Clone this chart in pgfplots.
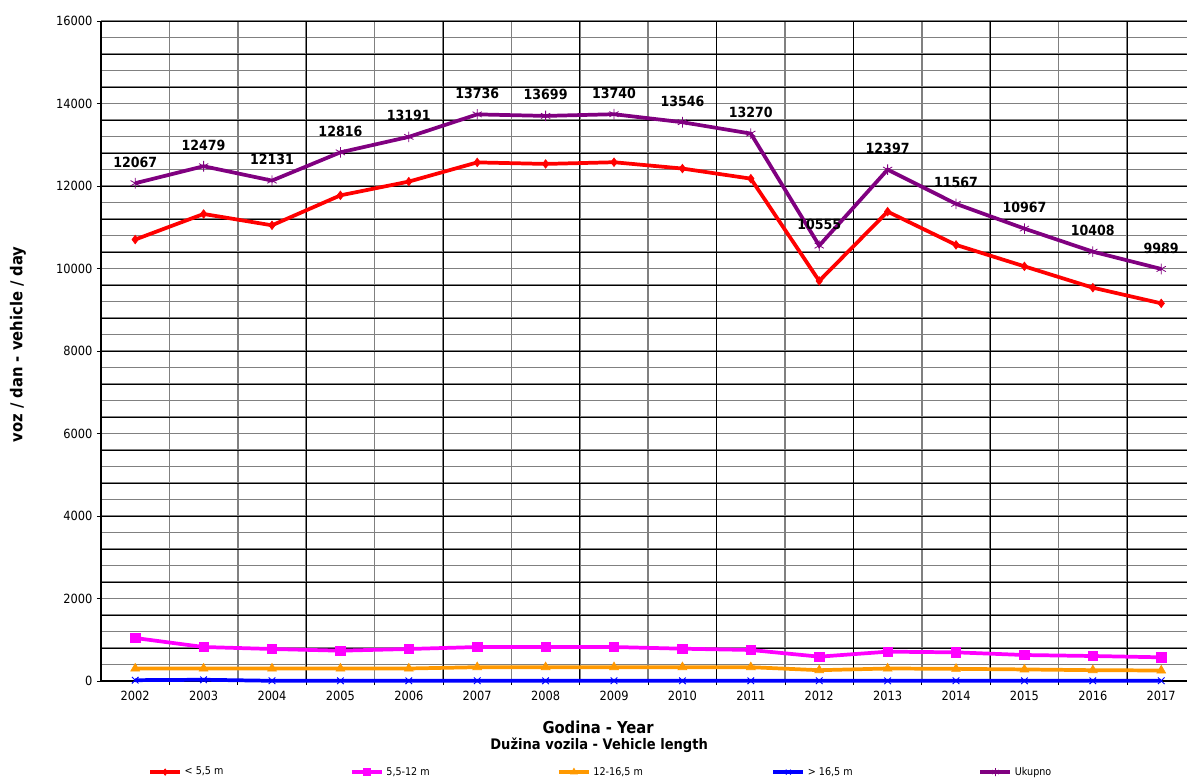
\documentclass[border=0pt]{standalone}
\usepackage{fontspec}
\setmainfont{DejaVu Sans Condensed}
\usepackage{pgfplots}
\pgfplotsset{compat=1.18}
\definecolor{cred}{HTML}{FF0000}
\definecolor{cpink}{HTML}{FF00FF}
\definecolor{corange}{HTML}{FF9900}
\definecolor{cblue}{HTML}{0000FF}
\definecolor{cpurple}{HTML}{800080}
\begin{document}
\begin{tikzpicture}
\begin{axis}[
  at={(0pt,0pt)}, anchor=south west,
  width=814.5pt, height=495pt, scale only axis,
  xmin=-0.5, xmax=15.377, ymin=0, ymax=16000,
  clip=false,
  axis lines*=left, axis line style={-, black, line width=0.8pt},
  tick align=outside,
  xtick={0,...,15},
  xticklabels={2002,2003,2004,2005,2006,2007,2008,2009,2010,2011,2012,2013,2014,2015,2016,2017},
  major x tick style={draw=none},
  minor xtick={0.5,1.5,...,15.5},
  xminorgrids,
  extra x ticks={2.5,4.5,6.5,8.5,10.5,12.5,14.5},
  extra x tick labels={},
  extra x tick style={grid=major, major grid style={black, line width=0.7pt}, major tick length=0pt},
  ytick={0,2000,...,16000},
  minor ytick={400,800,...,16000},
  yminorgrids,
  minor y tick style={draw=none},
  minor x tick style={black, line width=0.6pt},
  major y tick style={black, line width=0.6pt},
  minor tick length=3pt, major tick length=3pt,
  minor grid style={black!50, line width=1.2pt},
  extra y ticks={0,800,...,16000},
  extra y tick labels={},
  extra y tick style={grid=major, major grid style={black, line width=0.7pt}, major tick length=0pt},
  scaled y ticks=false,
  /pgf/number format/1000 sep={},
  /pgf/number format/assume math mode=true,
  ticklabel style={font=\fontsize{9.5}{11}\selectfont},
  xticklabel style={yshift=-1pt},
  xlabel={Godina - Year},
  xlabel style={at={(axis description cs:0.4577,-0.0697)}, anchor=center, font=\bfseries\fontsize{12.3}{14}\selectfont},
  ylabel={voz / dan - vehicle / day},
  ylabel style={at={(axis description cs:-0.0764,0.51)}, anchor=center, font=\bfseries\fontsize{12.3}{14}\selectfont},
  legend columns=5,
  legend style={at={(axis description cs:0.0433,-0.138)}, anchor=west, draw=none, fill=none,
    font=\fontsize{8}{9}\selectfont, inner sep=0pt,
    /tikz/every even column/.append style={column sep=0pt}},
  legend image code/.code={\draw[mark repeat=2,mark phase=2, every mark/.append style={scale=0.75}] plot coordinates {(0pt,0pt) (11.25pt,0pt) (22.5pt,0pt)};},
]
\addplot[cred, line width=2.8pt, mark=diamond*, mark size=3.2pt, mark options={solid, line width=0.5pt}] coordinates {
(0,10702) (1,11322) (2,11047) (3,11773) (4,12107) (5,12572) (6,12535) (7,12576) (8,12423) (9,12178) (10,9698) (11,11378) (12,10572) (13,10052) (14,9535) (15,9155)};
\addlegendentry{\makebox[122pt][l]{< 5,5 m}}
\addplot[cpink, line width=2.8pt, mark=square*, mark size=3.5pt, mark options={solid, line width=0.5pt}] coordinates {
(0,1042) (1,824) (2,776) (3,735) (4,776) (5,824) (6,824) (7,824) (8,783) (9,752) (10,590) (11,711) (12,695) (13,630) (14,606) (15,574)};
\addlegendentry{\makebox[126pt][l]{5,5-12 m}}
\addplot[corange, line width=2.8pt, mark=triangle*, mark size=3.8pt, mark options={solid, line width=0.5pt}] coordinates {
(0,303) (1,303) (2,303) (3,303) (4,303) (5,335) (6,335) (7,335) (8,335) (9,335) (10,262) (11,303) (12,295) (13,280) (14,262) (15,255)};
\addlegendentry{\makebox[131.5pt][l]{12-16,5 m}}
\addplot[cblue, line width=2.8pt, mark=x, mark size=3.5pt, mark options={solid, line width=0.7pt}] coordinates {
(0,20) (1,30) (2,5) (3,5) (4,5) (5,5) (6,5) (7,5) (8,5) (9,5) (10,5) (11,5) (12,5) (13,5) (14,5) (15,5)};
\addlegendentry{\makebox[126pt][l]{> 16,5 m}}
\addplot[cpurple, line width=2.8pt, mark=asterisk, mark size=4pt, mark options={solid, line width=0.6pt},
  nodes near coords={\pgfmathprintnumber[fixed,precision=0,1000 sep={}]{\pgfplotspointmeta}},
  every node near coord/.append style={black, font=\bfseries\fontsize{10.5}{12}\selectfont, anchor=south, inner sep=0pt, yshift=11.5pt}] coordinates {
(0,12067) (1,12479) (2,12131) (3,12816) (4,13191) (5,13736) (6,13699) (7,13740) (8,13546) (9,13270) (10,10555) (11,12397) (12,11567) (13,10967) (14,10408) (15,9989)};
\addlegendentry{Ukupno}
\node[font=\bfseries\fontsize{10.9}{12}\selectfont, anchor=center] at (axis description cs:0.4587,-0.0970) {Dužina vozila - Vehicle length};
\end{axis}
\pgfresetboundingbox
\path (-75.75pt,-72.75pt) rectangle (814.5pt,510.75pt);
\end{tikzpicture}
\end{document}
